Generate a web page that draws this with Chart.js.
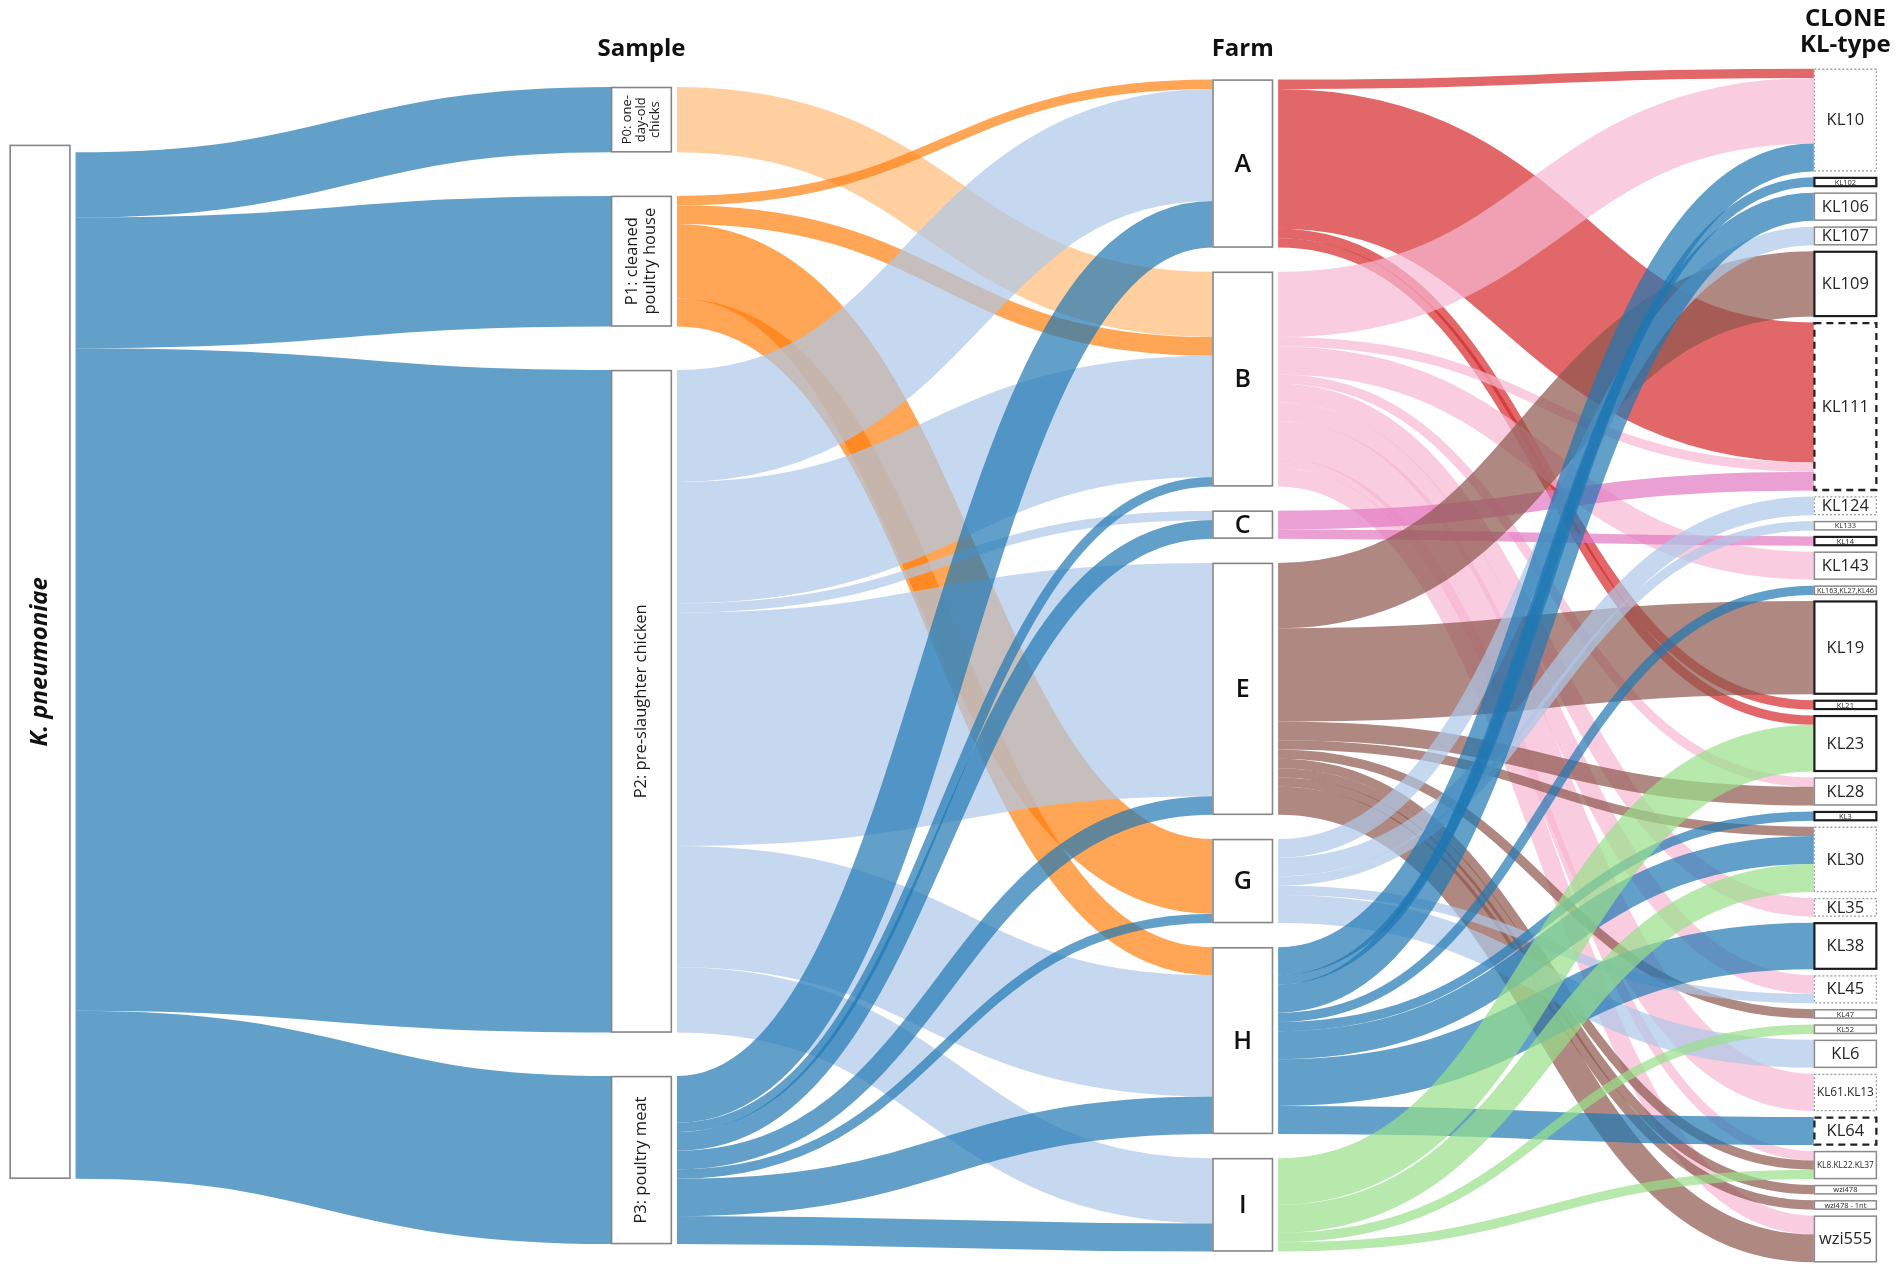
<!DOCTYPE html>
<html><head><meta charset="utf-8">
<script src="https://cdn.jsdelivr.net/npm/chart.js@4.4.0/dist/chart.umd.min.js"></script>
<style>html,body{margin:0;padding:0;background:#fff;}canvas{display:block;}</style>
</head><body>
<canvas id="c" width="1902" height="1272" style="width:1902px;height:1272px"></canvas>
<script>
// ================= DATA =================
const rootNodes = ['K. pneumoniae'];
const sampleNodes = ['P0', 'P1', 'P2', 'P3'];
const sampleLabels = [['P0: one-', 'day-old', 'chicks'], ['P1: cleaned', 'poultry house'], ['P2: pre-slaughter chicken'], ['P3: poultry meat']];
const farmNodes = ['A', 'B', 'C', 'E', 'G', 'H', 'I'];
const cloneNodes = ['KL10', 'KL102', 'KL106', 'KL107', 'KL109', 'KL111', 'KL124', 'KL133', 'KL14', 'KL143',
  'KL163,KL27,KL46', 'KL19', 'KL21', 'KL23', 'KL28', 'KL3', 'KL30', 'KL35', 'KL38', 'KL45', 'KL47', 'KL52',
  'KL6', 'KL61.KL13', 'KL64', 'KL8.KL22.KL37', 'wzi478', 'wzi478 - 1nt', 'wzi555'];
const columnTitles = [[], ['Sample'], ['Farm'], ['CLONE', 'KL-type']];

// K. pneumoniae -> sample (P0..P3)
const rootToSample = [7, 14, 71, 18];
// sample -> farm (A, B, C, E, G, H, I)
const p0ToFarm = [0, 7, 0, 0, 0, 0, 0];
const p1ToFarm = [1, 2, 0, 0, 8, 3, 0];
const p2ToFarm = [12, 13, 1, 25, 0, 13, 7];
const p3ToFarm = [5, 1, 2, 2, 1, 4, 3];
// farm -> clone (KL-type)
const farmAClones = ['KL10', 'KL111', 'KL21', 'KL23'];
const farmACounts = [1, 15, 1, 1];
const farmBClones = ['KL10', 'KL111', 'KL143', 'KL28', 'KL35', 'KL45', 'KL61.KL13', 'KL8.KL22.KL37', 'wzi555'];
const farmBCounts = [7, 1, 3, 1, 2, 2, 4, 1, 2];
const farmCClones = ['KL111', 'KL14'];
const farmCCounts = [2, 1];
const farmEClones = ['KL109', 'KL19', 'KL28', 'KL30', 'KL47', 'KL8.KL22.KL37', 'wzi478', 'wzi478 - 1nt', 'wzi555'];
const farmECounts = [7, 10, 2, 1, 1, 1, 1, 1, 3];
const farmGClones = ['KL107', 'KL124', 'KL133', 'KL45', 'KL6'];
const farmGCounts = [2, 2, 1, 1, 3];
const farmHClones = ['KL10', 'KL102', 'KL106', 'KL163,KL27,KL46', 'KL3', 'KL30', 'KL38', 'KL64'];
const farmHCounts = [3, 1, 3, 1, 1, 3, 5, 3];
const farmIClones = ['KL23', 'KL30', 'KL52', 'KL8.KL22.KL37'];
const farmICounts = [5, 3, 1, 1];

// ================= STYLE / LAYOUT =================
const rootColor = '#1f77b4';
const sampleColors = ['#ffbb78', '#ff7f0e', '#aec7e8', '#1f77b4'];
const farmColors = ['#d62728', '#f7b6d2', '#e377c2', '#8c564b', '#aec7e8', '#1f77b4', '#98df8a'];
const linkAlpha = 0.7;
const cloneBorderStyle = ['dot', 'thick', 'thin', 'thin', 'thick', 'dash', 'dot', 'thin', 'thick', 'thin',
  'thin', 'thick', 'thick', 'thick', 'thin', 'thick', 'dot', 'dot', 'thick', 'dot', 'thin', 'thin',
  'thin', 'dot', 'dash', 'thin', 'thin', 'thin', 'thin'];
const borderDefs = {
  dot:   { color: '#9c9c9c', width: 1.3, dash: [2, 2] },
  thick: { color: '#1c1c1c', width: 2.2, dash: [] },
  thin:  { color: '#8a8a8a', width: 1.5, dash: [] },
  dash:  { color: '#222222', width: 2.3, dash: [7, 5] }
};
const LAYOUT = {
  xMin: -0.0161, xMax: 3.1465,           // column units
  yMax: 136.33,                           // value units (top = 0)
  centerY: 71.33,
  pad: [0, 4.67, 2.6, 0.64],
  nodeW: [0.101, 0.101, 0.1006, 0.1047],
  linkGap: 0.0085
};

// ================= GRAPH BUILD =================
const cols = [rootNodes, sampleNodes, farmNodes, cloneNodes].map((names, c) =>
  names.map((name, i) => ({ name, col: c, idx: i, inV: 0, outV: 0, out: [], inn: [] })));
const links = [];
function addLink(sc, si, tc, ti, v) {
  if (!v) return;
  const l = { s: cols[sc][si], t: cols[tc][ti], v };
  links.push(l); l.s.out.push(l); l.t.inn.push(l); l.s.outV += v; l.t.inV += v;
}
rootToSample.forEach((v, i) => addLink(0, 0, 1, i, v));
[p0ToFarm, p1ToFarm, p2ToFarm, p3ToFarm].forEach((arr, i) => arr.forEach((v, j) => addLink(1, i, 2, j, v)));
[[farmAClones, farmACounts], [farmBClones, farmBCounts], [farmCClones, farmCCounts], [farmEClones, farmECounts],
 [farmGClones, farmGCounts], [farmHClones, farmHCounts], [farmIClones, farmICounts]]
  .forEach(([names, counts], i) => names.forEach((nm, k) => addLink(2, i, 3, cloneNodes.indexOf(nm), counts[k])));

cols.forEach((nodes, c) => {
  nodes.forEach(n => n.value = Math.max(n.inV, n.outV));
  const total = nodes.reduce((a, n) => a + n.value, 0) + (nodes.length - 1) * LAYOUT.pad[c];
  let y = LAYOUT.centerY - total / 2;
  nodes.forEach(n => { n.y0 = y; n.y1 = y + n.value; y = n.y1 + LAYOUT.pad[c]; });
  nodes.forEach(n => {
    n.out.sort((a, b) => a.t.idx - b.t.idx);
    n.inn.sort((a, b) => a.s.idx - b.s.idx);
    let o = n.y0; n.out.forEach(l => { l.sy = o + l.v / 2; o += l.v; });
    let q = n.y0; n.inn.forEach(l => { l.ty = q + l.v / 2; q += l.v; });
  });
});

function nodeColor(n) {
  if (n.col === 0) return rootColor;
  if (n.col === 1) return sampleColors[n.idx];
  return farmColors[n.idx];
}
function rgba(hex, a) {
  const h = hex.replace('#', '');
  const r = parseInt(h.substr(0, 2), 16), g = parseInt(h.substr(2, 2), 16), b = parseInt(h.substr(4, 2), 16);
  return `rgba(${r},${g},${b},${a})`;
}

// ================= PLUGIN =================
const sankeyPlugin = {
  id: 'sankey',
  afterDatasetsDraw(chart) {
    const ctx = chart.ctx, xs = chart.scales.x, ys = chart.scales.y;
    const X = v => xs.getPixelForValue(v), Y = v => ys.getPixelForValue(v);
    const unitPx = Math.abs(Y(1) - Y(0));
    ctx.save();
    // links
    links.forEach(l => {
      const x0 = X(l.s.col + LAYOUT.nodeW[l.s.col] + LAYOUT.linkGap);
      const x1 = X(l.t.col);
      const y0 = Y(l.sy), y1 = Y(l.ty);
      const xm = (x0 + x1) / 2;
      ctx.beginPath();
      ctx.moveTo(x0, y0);
      ctx.bezierCurveTo(xm, y0, xm, y1, x1, y1);
      ctx.lineWidth = l.v * unitPx;
      ctx.lineCap = 'butt';
      ctx.strokeStyle = rgba(nodeColor(l.s), linkAlpha);
      ctx.stroke();
    });
    // nodes
    cols.forEach((nodes, c) => nodes.forEach(n => {
      const xL = X(c), xR = X(c + LAYOUT.nodeW[c]);
      let yT = Y(n.y0), yB = Y(n.y1);
      if (c === 0) yT -= 0.8 * unitPx;
      ctx.fillStyle = '#ffffff';
      ctx.fillRect(xL, yT, xR - xL, yB - yT);
      let bd = { color: '#858585', width: 1.6, dash: [] };
      if (c === 3) bd = borderDefs[cloneBorderStyle[n.idx]];
      ctx.setLineDash(bd.dash);
      ctx.lineWidth = bd.width;
      ctx.strokeStyle = bd.color;
      ctx.strokeRect(xL + 0.5, yT + 0.5, xR - xL - 1, yB - yT - 1);
      ctx.setLineDash([]);
      const cx = (xL + xR) / 2, cy = (yT + yB) / 2;
      ctx.textAlign = 'center';
      ctx.textBaseline = 'middle';
      if (c === 0) {
        ctx.save(); ctx.translate(cx, cy); ctx.rotate(-Math.PI / 2);
        ctx.fillStyle = '#111';
        ctx.font = 'italic bold 24px "Open Sans"';
        ctx.fillText(n.name, 0, 0);
        ctx.restore();
      } else if (c === 1) {
        const lines = sampleLabels[n.idx];
        const fs = lines.length > 2 ? 13 : 16.5;
        const lh = lines.length > 2 ? 14 : 18;
        ctx.save(); ctx.translate(cx, cy); ctx.rotate(-Math.PI / 2);
        ctx.fillStyle = '#1a1a1a';
        ctx.font = `${fs}px "Open Sans"`;
        lines.forEach((t, i) => ctx.fillText(t, 0, (i - (lines.length - 1) / 2) * lh));
        ctx.restore();
      } else if (c === 2) {
        ctx.fillStyle = '#111';
        ctx.font = '600 25px "Open Sans"';
        ctx.fillText(n.name, cx, cy + 1);
      } else {
        const w = xR - xL - 6, h = yB - yT;
        let fs = n.value >= 2 ? 16.5 : 7.5;
        ctx.font = `${fs}px "Open Sans"`;
        const tw = ctx.measureText(n.name).width;
        if (tw > w) fs = fs * w / tw;
        fs = Math.min(fs, h - 1.5);
        ctx.font = `${fs}px "Open Sans"`;
        ctx.fillStyle = '#262626';
        ctx.fillText(n.name, cx, cy + 0.5);
      }
    }));
    // column titles
    ctx.fillStyle = '#111';
    ctx.textAlign = 'center';
    ctx.textBaseline = 'middle';
    ctx.font = 'bold 24px "Open Sans"';
    columnTitles.forEach((lines, c) => {
      if (!lines.length) return;
      const cx = X(c + LAYOUT.nodeW[c] / 2);
      if (lines.length === 1) ctx.fillText(lines[0], cx, 49);
      else lines.forEach((t, i) => ctx.fillText(t, cx, 19 + i * 26));
    });
    ctx.restore();
  }
};

new Chart(document.getElementById('c'), {
  type: 'scatter',
  data: { datasets: [{ data: [], pointRadius: 0 }] },
  options: {
    responsive: false,
    animation: false,
    devicePixelRatio: 1,
    layout: { padding: 0 },
    plugins: { legend: { display: false }, tooltip: { enabled: false } },
    scales: {
      x: { type: 'linear', min: LAYOUT.xMin, max: LAYOUT.xMax, display: false },
      y: { type: 'linear', min: 0, max: LAYOUT.yMax, reverse: true, display: false }
    }
  },
  plugins: [sankeyPlugin]
});
</script>
</body></html>
